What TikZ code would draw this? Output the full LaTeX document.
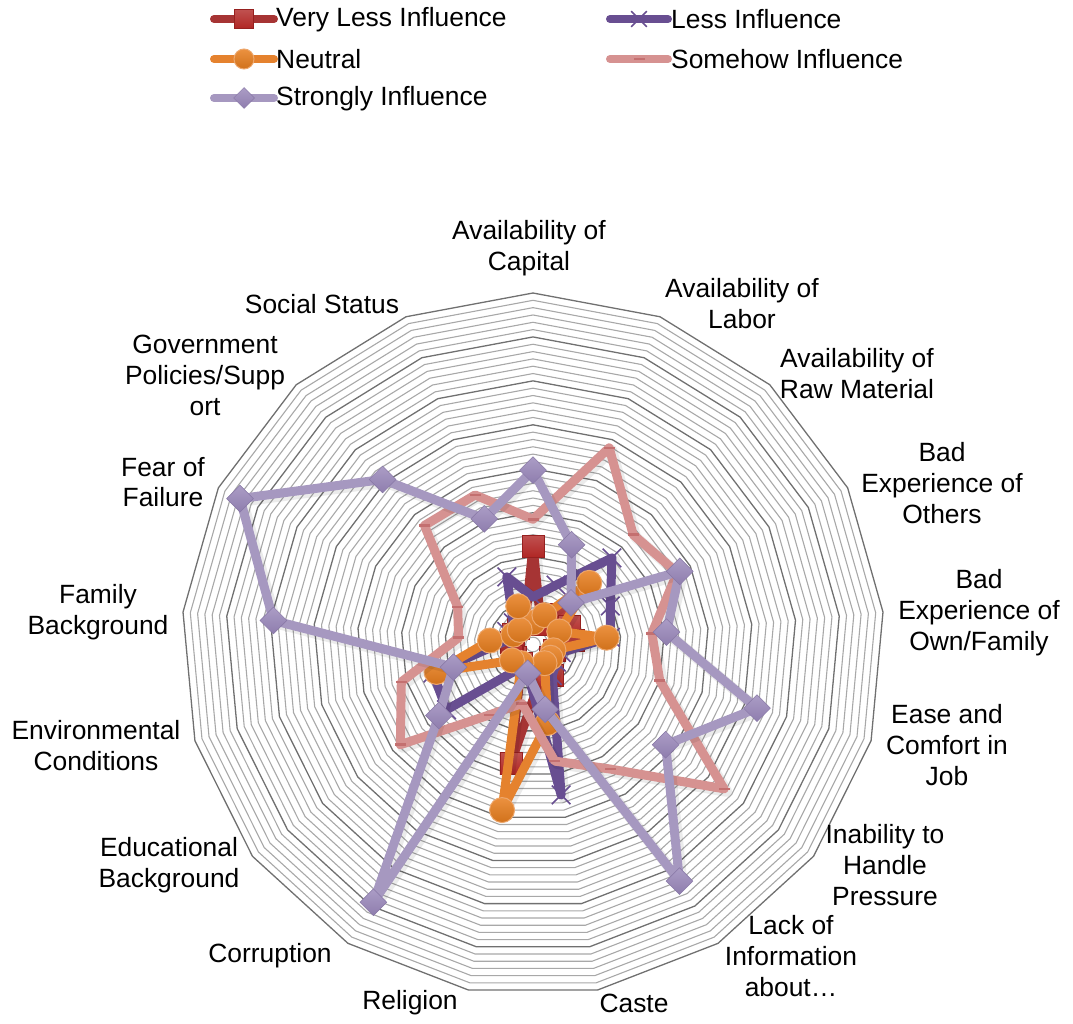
\documentclass[tikz,border=0pt]{standalone}
\usepackage{fontspec}
\setmainfont{Liberation Sans}
\usetikzlibrary{shapes.geometric,shapes.misc}
\definecolor{vlcol}{RGB}{166,52,52}
\definecolor{vlmark}{RGB}{176,38,36}
\definecolor{lecol}{RGB}{104,78,145}
\definecolor{necol}{RGB}{229,130,46}
\definecolor{nemark}{RGB}{232,126,30}
\definecolor{socol}{RGB}{214,146,145}
\definecolor{somark}{RGB}{196,112,112}
\definecolor{stcol}{RGB}{166,152,192}
\definecolor{stmark}{RGB}{150,132,183}
\definecolor{gridmaj}{RGB}{112,112,112}
\definecolor{gridmin}{RGB}{168,168,168}

% one radar series: #1 name prefix, #2 line style, #3 marker style, #4 17 values (ring units)
\newcommand\radarseries[4]{%
  \foreach \v [count=\k from 0] in {#4}{\coordinate (#1\k) at ({\k*360/17-90}:{\v*7.3229});}
  \draw[serieshadow] ([shift={(2.5,2.5)}]#10) \foreach \k in {1,...,16}{ -- ([shift={(2.5,2.5)}]#1\k)} -- cycle;
  \draw[#2] (#10) \foreach \k in {1,...,16}{ -- (#1\k)} -- cycle;
  \foreach \k in {0,...,16}{\node[#3] (#1m\k) at (#1\k) {};}
}

\begin{document}
\begin{tikzpicture}[x=1pt,y=-1pt,
  gridminor/.style={draw=gridmin,line width=1.1pt},
  gridmajor/.style={draw=gridmaj,line width=1.3pt},
  series/.style={line width=9pt,line join=round,line cap=round},
  serieshadow/.style={series,draw=black,opacity=0.08,line width=11pt},
  vlline/.style={series,draw=vlcol},
  leline/.style={series,draw=lecol},
  neline/.style={series,draw=necol},
  soline/.style={series,draw=socol},
  stline/.style={series,draw=stcol},
  vlmarker/.style={rectangle,inner sep=0,minimum size=22pt,top color=vlmark!80!white,bottom color=vlmark,draw=vlmark!85!black,line width=0.6pt},
  lemarker/.style={cross out,inner sep=0,minimum size=17pt,draw=lecol,line width=1.6pt},
  nemarker/.style={circle,inner sep=0,minimum size=25pt,top color=nemark!85!white,bottom color=nemark!90!black,draw=necol!70!white,line width=1pt},
  somarker/.style={rectangle,inner sep=0,minimum width=11pt,minimum height=2.5pt,fill=somark},
  stmarker/.style={diamond,inner sep=0,minimum size=27pt,top color=stmark!80!white,bottom color=stmark!95!black,draw=stmark!90!black,line width=0.5pt},
  lab/.style={font=\fontsize{26.4}{30.8}\selectfont,align=center,inner sep=0pt},
  legline/.style={line width=8pt,line cap=round}
]
\useasboundingbox (0,0) rectangle (1073,1024);

% legend
\draw[legline,draw=vlcol] (214,19) coordinate (lg1a) -- (274,19) coordinate (lg1b);
\node[vlmarker,minimum size=19pt] (lgm1) at (244,19) {};
\node[lab,anchor=west] (lgt1) at (276,19.5) {Very Less Influence};
\draw[legline,draw=lecol] (610,19) coordinate (lg2a) -- (668,19) coordinate (lg2b);
\node[lemarker,minimum size=14pt] (lgm2) at (639,19) {};
\node[lab,anchor=west] (lgt2) at (671,19.5) {Less Influence};
\draw[legline,draw=necol] (214,59) coordinate (lg3a) -- (274,59) coordinate (lg3b);
\node[nemarker,minimum size=20pt] (lgm3) at (244,59) {};
\node[lab,anchor=west] (lgt3) at (276,59.5) {Neutral};
\draw[legline,draw=socol] (610,59) coordinate (lg4a) -- (668,59) coordinate (lg4b);
\node[somarker] (lgm4) at (639,59) {};
\node[lab,anchor=west] (lgt4) at (671,59.5) {Somehow Influence};
\draw[legline,draw=stcol] (214,98) coordinate (lg5a) -- (274,98) coordinate (lg5b);
\node[stmarker,minimum size=21pt] (lgm5) at (244,98) {};
\node[lab,anchor=west] (lgt5) at (276,98.5) {Strongly Influence};

\begin{scope}[shift={(533,644.5)}]
% grid rings, darker every sixth ring
\foreach \i in {1,...,48}{
  \pgfmathsetmacro\r{\i*7.3229}
  \pgfmathtruncatemacro\m{mod(\i,6)}
  \ifnum\m=0 \def\gs{gridmajor}\else\def\gs{gridminor}\fi
  \draw[\gs] (-90:\r) \foreach \k in {1,...,16}{ -- ({\k*360/17-90}:\r)} -- cycle;
}
% data series
\radarseries{vl}{vlline}{vlmarker}{13.4,3,5.6,5.5,5.5,3,3,5,5,16.5,3,3,3,3,3,3,3}
\radarseries{le}{leline}{lemarker}{6.5,8.7,16,11.8,10.6,4,4,5,20.9,4,4,14.8,14.2,4,4,4,9.9}
\radarseries{ne}{neline}{nemarker}{3,4.3,11.4,4,10.1,2.9,3,3,10.9,23,3,3.6,13.7,5.9,3,2.7,5.6}
\radarseries{so}{soline}{somarker}{17.1,28.8,20.3,22,16.3,18,32.7,20,16.2,8.2,11.3,22.7,18.7,10.2,11.5,22,21.9}
\radarseries{st}{stline}{stmarker}{23.8,14.6,7.7,22.4,18.3,31.8,22.7,38,9,4,41.4,16.1,11.3,35.6,44.7,30.5,18.4}
\end{scope}

% category labels
\node[lab] (c0) at (529,248.5) {Availability of\\Capital};
\node[lab] (c1) at (742,303.5) {Availability of\\Labor};
\node[lab] (c2) at (857,373.5) {Availability of\\Raw Material};
\node[lab] (c3) at (942,483) {Bad\\Experience of\\Others};
\node[lab] (c4) at (979,612.5) {Bad\\Experience of\\Own/Family};
\node[lab] (c5) at (947,745) {Ease and\\Comfort in\\Job};
\node[lab] (c6) at (885,865) {Inability to\\Handle\\Pressure};
\node[lab] (c7) at (791,956) {Lack of\\Information\\about\dots};
\node[lab] (c8) at (634,1003) {Caste};
\node[lab] (c9) at (410,1003) {Religion};
\node[lab] (c10) at (270,956) {Corruption};
\node[lab] (c11) at (169,865.5) {Educational\\Background};
\node[lab] (c12) at (96,745.5) {Environmental\\Conditions};
\node[lab] (c13) at (98,612.5) {Family\\Background};
\node[lab] (c14) at (163,482) {Fear of\\Failure};
\node[lab] (c15) at (205,375.5) {Government\\Policies/Supp\\ort};
\node[lab] (c16) at (322,304) {Social Status};
\end{tikzpicture}
\end{document}
